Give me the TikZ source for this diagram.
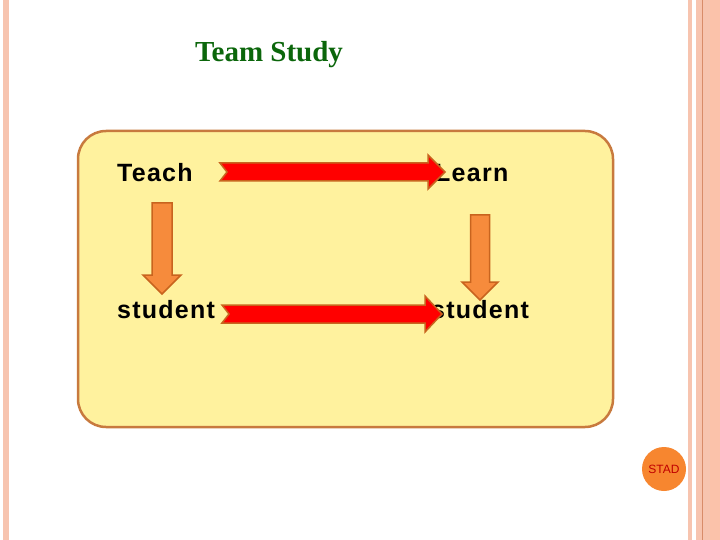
\documentclass[tikz,border=0pt]{standalone}
\usepackage{fontspec}
\setmainfont{Liberation Serif}
\newfontfamily\labelfont[LetterSpace=5]{Liberation Sans}
\newfontfamily\badgefont{Liberation Sans}
\usetikzlibrary{calc}
\definecolor{SlideStripe}{HTML}{F7C4AF}
\definecolor{SlideStripeDark}{HTML}{D88C6A}
\definecolor{SlideStripeDeep}{HTML}{FBC2AA}
\definecolor{TitleGreen}{HTML}{0B660B}
\definecolor{BoxFill}{HTML}{FFF29E}
\definecolor{BoxEdge}{HTML}{C87A3E}
\definecolor{ArrowEdge}{HTML}{C8641E}
\definecolor{ArrowOrange}{HTML}{F68B3C}
\definecolor{BadgeOrange}{HTML}{F7862F}
\definecolor{BadgeText}{HTML}{C00000}

% block arrow: style, tail, tip, shaft half, head half, head length, notch
\newcommand\blockarrow[7]{%
  \coordinate (hb) at ($(#3)!#6!(#2)$);
  \draw[#1] ($(#2)!#4!90:(#3)$) -- ($(hb)!#4!90:(#3)$) -- ($(hb)!#5!90:(#3)$)
    -- (#3) -- ($(hb)!#5!-90:(#3)$) -- ($(hb)!#4!-90:(#3)$)
    -- ($(#2)!#4!-90:(#3)$) -- ($(#2)!#7!(#3)$) -- cycle;
}

\begin{document}
\begin{tikzpicture}[
    x=1pt, y=-1pt,
    word/.style={anchor=base west, inner sep=0pt,
      font=\labelfont\bfseries\fontsize{25}{29}\selectfont},
    redarrow/.style={fill=red, draw=ArrowEdge, line width=1.5pt, line join=miter},
    downarrow/.style={fill=ArrowOrange, draw=ArrowEdge, line width=1.5pt, line join=miter}
  ]
    \useasboundingbox (0,0) rectangle (720,540);
    \fill[white] (0,0) rectangle (720,540);
    % side stripes
    \fill[SlideStripe] (3,0) rectangle (9,540);
    \fill[SlideStripe] (688,0) rectangle (692,540);
    \fill[SlideStripe] (696,0) rectangle (720,540);
    \fill[SlideStripeDeep] (710,0) rectangle (720,540);
    \draw[SlideStripeDark, line width=1pt] (702.5,0) -- (702.5,540);

    \node[anchor=base, inner sep=0pt, text=TitleGreen,
      font=\bfseries\fontsize{29}{34}\selectfont] (title) at (269,62) {Team Study};

    \draw[fill=BoxFill, draw=BoxEdge, line width=2.5pt, rounded corners=28pt]
      (78,131) rectangle (613,427);

    \node[word] (teach) at (117,182) {Teach};
    \node[word] (learn) at (435,182) {Learn};
    \node[word] (stud1) at (117,318) {student};
    \node[word] (stud2) at (431,318) {student};

    \coordinate (t1) at (220,172);
    \coordinate (h1) at (445,172);
    \coordinate (t2) at (222,314);
    \coordinate (h2) at (442,314);
    \coordinate (t3) at (162,203);
    \coordinate (h3) at (162,294);
    \coordinate (t4) at (480,215);
    \coordinate (h4) at (480,300);
    \blockarrow{redarrow}{t1}{h1}{9pt}{17pt}{17pt}{7pt}
    \blockarrow{redarrow}{t2}{h2}{9pt}{18pt}{17pt}{7pt}
    \blockarrow{downarrow}{t3}{h3}{10pt}{19pt}{19pt}{0pt}
    \blockarrow{downarrow}{t4}{h4}{9.5pt}{18pt}{18pt}{0pt}

    \node[circle, fill=BadgeOrange, minimum size=44pt, inner sep=0pt,
      text=BadgeText, font=\badgefont\fontsize{12}{14}\selectfont] (stad) at (664,469) {STAD};
  \end{tikzpicture}
\end{document}
